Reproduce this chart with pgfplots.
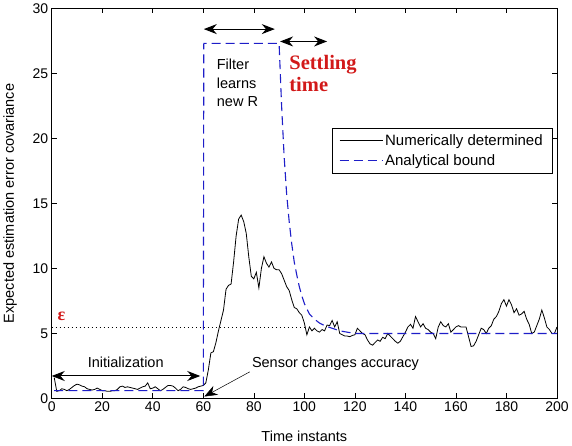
\documentclass[border=0pt]{standalone}
\usepackage{fontspec}
\setmainfont{Liberation Sans}
\newfontfamily\annserif{Liberation Serif}
\usepackage{pgfplots}
\pgfplotsset{compat=1.18}
\usetikzlibrary{arrows.meta}
\definecolor{boundblue}{RGB}{30,30,200}
\definecolor{annred}{RGB}{210,25,25}

\begin{document}
\begin{tikzpicture}
\begin{axis}[
    width=505pt, height=390pt, scale only axis,
    xmin=0, xmax=200, ymin=0, ymax=30,
    xtick={0,20,...,200}, ytick={0,5,...,30},
    tick align=inside, major tick length=5pt,
    xtick pos=both, ytick pos=both,
    tick style={black, line width=0.6pt},
    axis line style={line width=0.6pt},
    /pgf/number format/assume math mode=true,
    tick label style={font=\fontsize{14}{16}\selectfont},
    label style={font=\fontsize{14.5}{17}\selectfont},
    xlabel={Time instants},
    ylabel={Expected estimation error covariance},
    xlabel style={at={(axis description cs:0.5,-0.075)}, anchor=north},
    ylabel style={at={(axis description cs:-0.062,0.5)}, anchor=south},
    legend style={at={(axis cs:198,20.8)}, anchor=north east,
        font=\fontsize{15}{17}\selectfont, draw=black,
        inner xsep=7pt, inner ysep=4pt, row sep=4pt, cells={anchor=west}},
    legend image code/.code={\draw[#1] (0pt,0pt) -- (43pt,0pt);},
    clip=false,
]

% epsilon level
\addplot[forget plot, black, line width=0.8pt, dash pattern=on 1pt off 3pt]
    coordinates {(0,5.5) (100,5.5)};

% numerically determined covariance
\addplot[black, line width=0.8pt] coordinates {
(1,1.6) (2,0.55) (3,0.6) (4,0.75) (5,0.7) (6,0.6) (7,0.7) (8,0.85) (9,1.0) (10,1.1)
(11,1.05) (12,0.95) (13,0.9) (14,0.75) (15,0.7) (16,0.65) (17,0.7) (18,0.8) (19,0.7) (20,0.6)
(21,0.6) (22,0.55) (23,0.55) (24,0.6) (25,0.6) (26,0.7) (27,0.9) (28,0.95) (29,0.85) (30,0.9)
(31,0.85) (32,0.8) (33,0.75) (34,0.7) (35,0.8) (36,0.9) (37,0.95) (38,1.2) (39,0.75) (40,0.8)
(41,0.9) (42,0.75) (43,0.6) (44,0.7) (45,0.85) (46,1.0) (47,1.0) (48,0.95) (49,0.8) (50,0.6)
(51,0.7) (52,0.9) (53,0.85) (54,0.75) (55,0.7) (56,0.75) (57,0.8) (58,0.9) (59,0.95) (60,1.0)
(61,1.2) (62,2.2) (63,3.5) (64,3.6) (65,4.3) (66,5.2) (67,6.0) (68,6.8) (69,8.4) (70,8.7)
(71,8.8) (72,10.5) (73,12.5) (74,13.8) (75,14.1) (76,13.6) (77,12.7) (78,10.9) (79,9.4) (80,9.2)
(81,9.7) (82,8.5) (83,10.0) (84,10.9) (85,10.4) (86,10.1) (87,10.5) (88,10.0) (89,9.9) (90,9.9)
(91,9.6) (92,9.1) (93,8.6) (94,8.3) (95,7.6) (96,7.0) (97,6.9) (98,6.6) (99,6.4) (100,5.8)
(101,4.9) (102,5.5) (103,5.2) (104,5.4) (105,5.2) (106,5.1) (107,5.3) (108,5.2) (109,5.65) (110,5.6)
(111,6.0) (112,5.5) (113,5.9) (114,5.0) (115,4.9) (116,4.8) (117,4.8) (118,4.75) (119,4.85) (120,4.9)
(121,5.4) (122,5.2) (123,5.0) (124,4.9) (125,4.5) (126,4.2) (127,4.1) (128,4.3) (129,4.5) (130,4.4)
(131,4.7) (132,4.6) (133,5.0) (134,4.8) (135,4.6) (136,4.4) (137,4.25) (138,4.4) (139,4.75) (140,5.1)
(141,5.5) (142,5.7) (143,5.4) (144,6.3) (145,5.9) (146,5.5) (147,5.75) (148,5.4) (149,5.3) (150,5.1)
(151,5.0) (152,4.6) (153,5.5) (154,5.9) (155,5.6) (156,5.5) (157,5.75) (158,5.1) (159,5.3) (160,5.5)
(161,5.6) (162,5.5) (163,5.5) (164,5.5) (165,4.75) (166,4.0) (167,4.05) (168,4.4) (169,4.9) (170,5.4)
(171,5.3) (172,5.0) (173,5.4) (174,5.6) (175,6.1) (176,6.3) (177,6.7) (178,7.3) (179,7.6) (180,7.1)
(181,7.6) (182,7.2) (183,6.6) (184,6.9) (185,6.4) (186,6.5) (187,6.7) (188,6.1) (189,5.7) (190,5.0)
(191,5.1) (192,5.6) (193,6.1) (194,6.8) (195,6.2) (196,5.5) (197,5.3) (198,5.0) (199,5.0) (200,5.5)
};
\addlegendentry{Numerically determined}

% analytical bound
\addplot[color=boundblue, line width=1.1pt, dash pattern=on 9pt off 5pt] coordinates {
(1,0.6) (60,0.6) (60.2,27.3) (90,27.3) (91,22.5) (92,18.6) (93,15.7) (94,13.6)
(95,11.9) (96,10.5) (97,9.5) (98,8.6) (99,7.9) (100,7.3) (101,6.9) (102,6.5)
(104,6.1) (106,5.8) (108,5.6) (111,5.4) (114,5.2) (117,5.1) (120,5.0) (200,5.0)
};
\addlegendentry{Analytical bound}

% annotations
\draw[{Stealth[length=13pt,width=10pt]}-{Stealth[length=13pt,width=10pt]}, line width=1pt]
    (axis cs:60.2,28.4) -- (axis cs:88.3,28.4);
\draw[{Stealth[length=13pt,width=10pt]}-{Stealth[length=13pt,width=10pt]}, line width=1pt]
    (axis cs:90.4,27.45) -- (axis cs:109,27.45);
\draw[{Stealth[length=13pt,width=10pt]}-{Stealth[length=13pt,width=10pt]}, line width=1pt]
    (axis cs:0,1.73) -- (axis cs:58.8,1.73);
\draw[-{Stealth[length=13pt,width=10pt]}, line width=0.5pt]
    (axis cs:78.4,2.05) -- (axis cs:60.4,0.15);

\node[anchor=north west, inner sep=0pt, align=left,
      font=\fontsize{14.5}{18.5}\selectfont] at (axis cs:65.3,26.1)
    {Filter\\learns\\new R};
\node[anchor=north west, inner sep=0pt, align=left, text=annred,
      font=\annserif\bfseries\fontsize{20.5}{22}\selectfont] at (axis cs:94.0,26.4)
    {Settling\\time};
\node[text=annred, inner sep=0pt, font=\annserif\bfseries\fontsize{18}{20}\selectfont]
    at (axis cs:3.9,6.35) {ε};
\node[anchor=base, inner sep=0pt, font=\fontsize{14.5}{17}\selectfont]
    at (axis cs:29.3,2.35) {Initialization};
\node[anchor=base west, inner sep=0pt, font=\fontsize{14.5}{17}\selectfont]
    at (axis cs:79.2,2.35) {Sensor changes accuracy};
\end{axis}
\end{tikzpicture}
\end{document}
